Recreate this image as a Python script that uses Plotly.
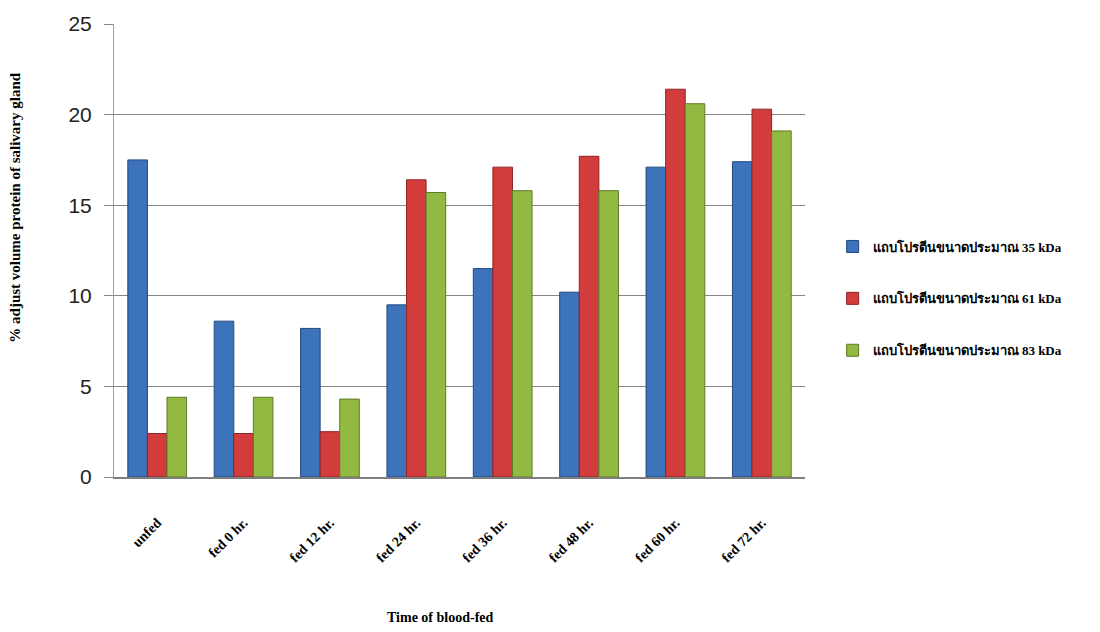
import plotly.graph_objects as go

categories = ["unfed", "fed 0 hr.", "fed 12 hr.", "fed 24 hr.", "fed 36 hr.", "fed 48 hr.", "fed 60 hr.", "fed 72 hr."]
series_names = ["แถบโปรตีนขนาดประมาณ 35 kDa", "แถบโปรตีนขนาดประมาณ 61 kDa", "แถบโปรตีนขนาดประมาณ 83 kDa"]
band_35 = [17.5, 8.6, 8.2, 9.5, 11.5, 10.2, 17.1, 17.4]
band_61 = [2.4, 2.4, 2.5, 16.4, 17.1, 17.7, 21.4, 20.3]
band_83 = [4.4, 4.4, 4.3, 15.7, 15.8, 15.8, 20.6, 19.1]
y_ticks = [0, 5, 10, 15, 20, 25]

fills = ["#3D73BA", "#D23C3C", "#92B941"]
edges = ["#21497F", "#8E2424", "#5E7A26"]

fig = go.Figure()
for i, (name, vals) in enumerate(zip(series_names, [band_35, band_61, band_83])):
    fig.add_trace(go.Bar(
        x=categories, y=vals, name=name, legendgroup=f"g{i}",
        marker=dict(color=fills[i], line=dict(color=edges[i], width=1)),
    ))

serif = "Liberation Serif"
fig.update_layout(
    width=1100, height=632,
    margin=dict(l=114, r=295, t=20, b=155),
    paper_bgcolor="white", plot_bgcolor="white",
    barmode="group", bargap=0.32, bargroupgap=0,
    showlegend=True,
    legend=dict(x=1.04, y=0.394, xanchor="left", yanchor="middle",
                traceorder="grouped", tracegroupgap=32,
                font=dict(family=serif, size=13, color="black", weight="bold"),
                itemwidth=30),
    xaxis=dict(
        tickangle=-45, showgrid=False, ticks="", ticklabelstandoff=30,
        tickfont=dict(family=serif, size=14, color="black", weight="bold"),
        showline=True, linecolor="#7F7F7F", linewidth=2,
    ),
    yaxis=dict(
        range=[0, 25], tickvals=y_ticks, ticks="outside", ticklen=9, tickcolor="#868686",
        tickfont=dict(family="Liberation Sans", size=21, color="#222"),
        showgrid=True, gridcolor="#868686", gridwidth=1,
        showline=True, linecolor="#A0A0A0", linewidth=1, zeroline=False,
        ticklabelstandoff=8,
    ),
    annotations=[
        dict(text="Time of blood-fed", xref="paper", yref="paper", x=0.473, y=-0.31,
             xanchor="center", yanchor="middle", showarrow=False,
             font=dict(family=serif, size=14, color="black", weight="bold")),
        dict(text="% adjust volume protein of salivary gland", xref="paper", yref="paper",
             x=-0.143, y=0.595, xanchor="center", yanchor="middle", showarrow=False, textangle=-90,
             font=dict(family=serif, size=15, color="black", weight="bold")),
    ],
)

fig.write_html("out.html")
